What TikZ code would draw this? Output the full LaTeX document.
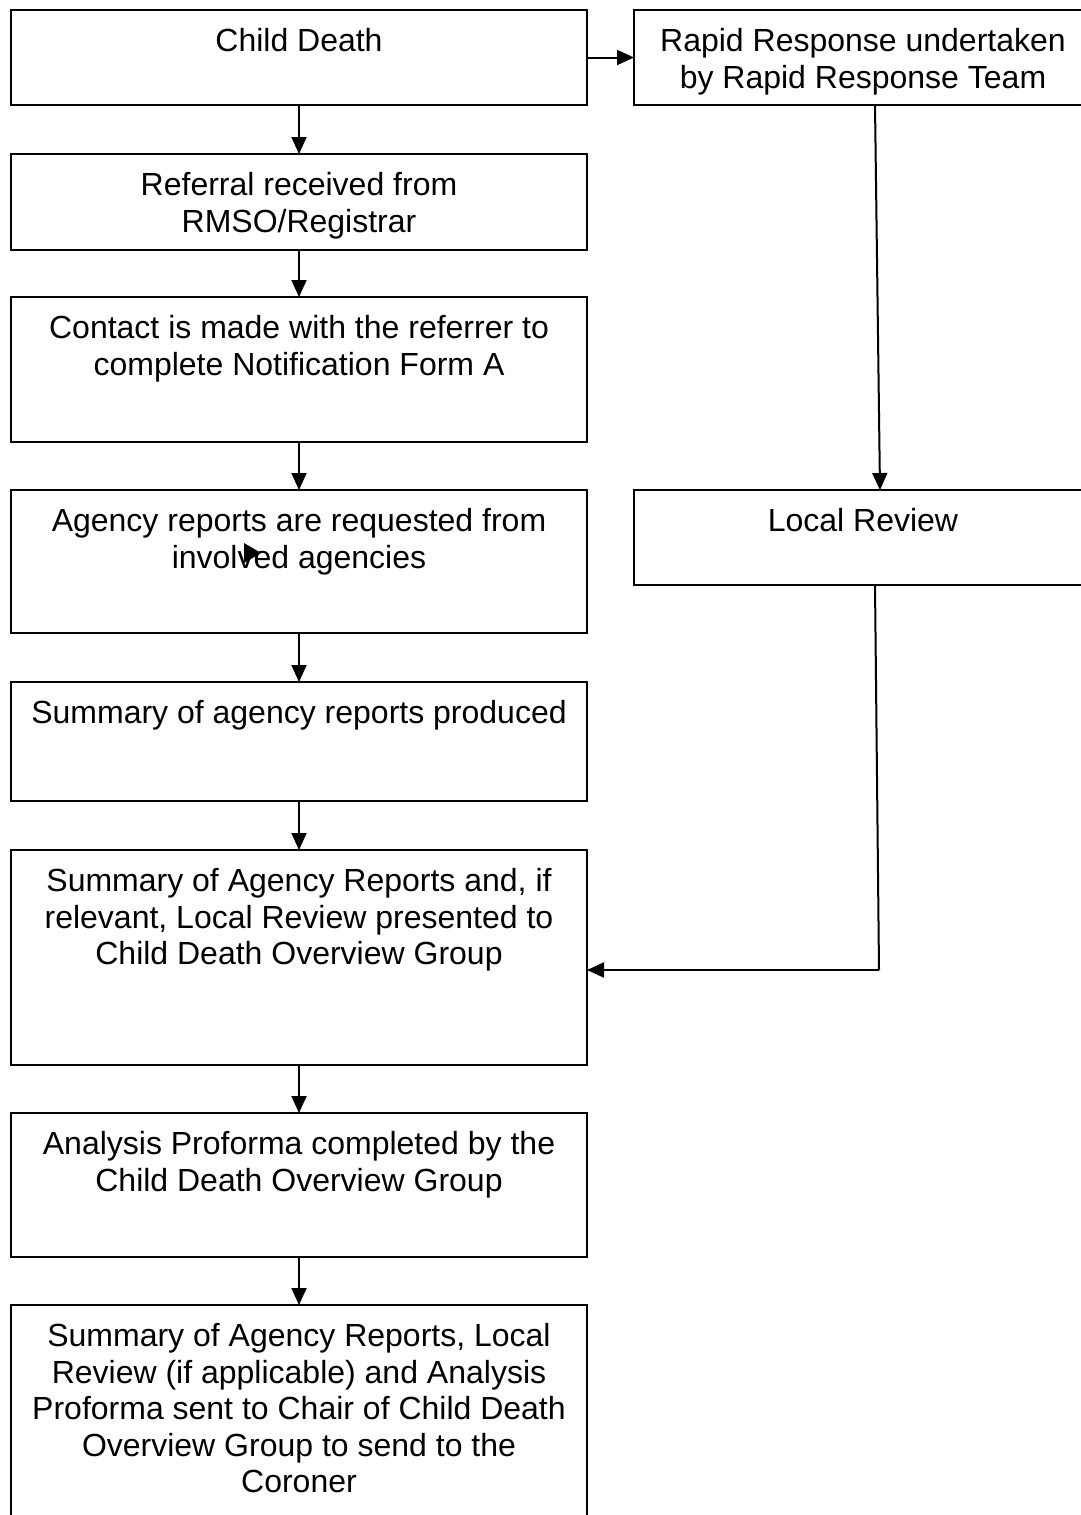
\documentclass[tikz,border=0pt]{standalone}
\usepackage{fontspec}
\setmainfont{Liberation Sans}
\usetikzlibrary{arrows.meta,calc}
\tikzset{
  box/.style={draw, rectangle, line width=1pt, inner sep=0pt, outer sep=0pt, anchor=north west},
  arr/.style={line width=1pt, -{Triangle[length=8.5pt,width=7.5pt]}},
  plain/.style={line width=1pt},
}
\newcommand{\boxtext}[3]{\parbox[c][#2][t]{#1}{\centering\fontsize{16pt}{18.3pt}\selectfont\vspace*{7.9pt}\strut #3\par}}
\begin{document}
\begin{tikzpicture}[x=0.5pt,y=-0.5pt]
\clip (0,0) rectangle (1081,1515);
\fill[white] (0,0) rectangle (1081,1515);
\node[box] (cd) at (11,10) {\boxtext{288pt}{47.5pt}{Child Death}};
\node[box] (rr) at (634,10) {\boxtext{229pt}{47.5pt}{Rapid Response undertaken\\by Rapid Response Team}};
\node[box] (ref) at (11,154) {\boxtext{288pt}{48pt}{Referral received from\\RMSO/Registrar}};
\node[box] (con) at (11,297) {\boxtext{288pt}{72.5pt}{Contact is made with the referrer to\\complete Notification Form A}};
\node[box] (ag) at (11,490) {\boxtext{288pt}{71.5pt}{Agency reports are requested from\\involved agencies}};
\node[box] (lr) at (634,490) {\boxtext{229pt}{47.5pt}{Local Review}};
\node[box] (sum) at (11,682) {\boxtext{288pt}{59.5pt}{Summary of agency reports produced}};
\node[box] (sumar) at (11,850) {\boxtext{288pt}{107.5pt}{Summary of Agency Reports and, if\\relevant, Local Review presented to\\Child Death Overview Group}};
\node[box] (ana) at (11,1113) {\boxtext{288pt}{72pt}{Analysis Proforma completed by the\\Child Death Overview Group}};
\node[box] (fin) at (11,1305) {\boxtext{288pt}{115pt}{Summary of Agency Reports, Local\\Review (if applicable) and Analysis\\Proforma sent to Chair of Child Death\\Overview Group to send to the\\Coroner}};
% connectors
\draw[arr] (cd.east) -- (rr.west);
\draw[arr] (cd.south) -- (ref.north);
\draw[arr] (ref.south) -- (con.north);
\draw[arr] (con.south) -- (ag.north);
\draw[arr] (ag.south) -- (sum.north);
\draw[arr] (sum.south) -- (sumar.north);
\draw[arr] (sumar.south) -- (ana.north);
\draw[arr] (ana.south) -- (fin.north);
\draw[arr] ([xshift=6pt]rr.south) -- ([xshift=8.5pt]lr.north);
\coordinate (bend) at (879,970);
\draw[plain] ([xshift=6pt]lr.south) -- (bend);
\draw[arr] (bend) -- (bend -| sumar.east);
% stray arrowhead
\fill (244,543) -- (261,553) -- (244,563) -- cycle;
\end{tikzpicture}
\end{document}
